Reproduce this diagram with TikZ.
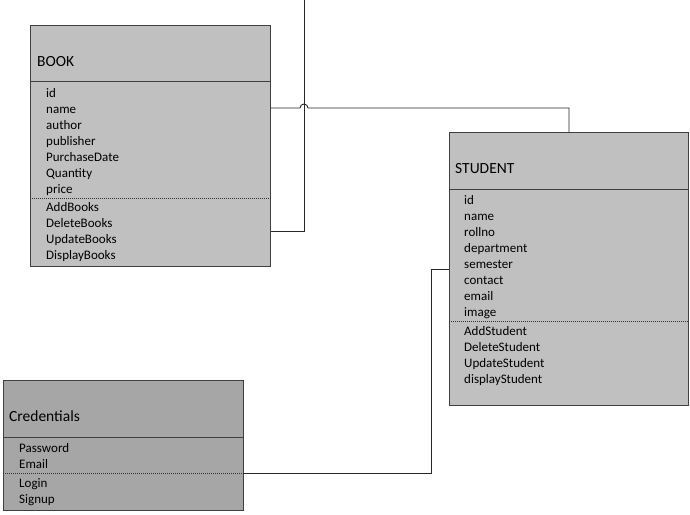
\documentclass[tikz,border=0pt]{standalone}
\usepackage{fontspec}
\setmainfont{Carlito}
\definecolor{boxfill}{RGB}{192,192,192}
\definecolor{credfill}{RGB}{166,166,166}
\definecolor{boxline}{RGB}{64,64,64}
\definecolor{connline}{RGB}{40,40,40}
\begin{document}
\begin{tikzpicture}[x=1pt,y=-1pt,
  box/.style={draw=boxline, line width=1pt, rectangle, anchor=north west, inner sep=0pt},
  titletext/.style={anchor=base west, inner sep=0pt, font=\fontsize{15.5}{18}\selectfont},
  attr/.style={anchor=base west, inner sep=0pt, font=\fontsize{13}{15}\selectfont},
  sepline/.style={draw=boxline, line width=1pt},
  dotline/.style={draw=black!80, line width=1pt, dash pattern=on 1pt off 1pt},
  conn/.style={draw=connline, line width=0.9pt}]
\useasboundingbox (0,0) rectangle (690,514);

% BOOK
\node[box, fill=boxfill, minimum width=240, minimum height=241.5] (book) at (30,24.5) {};
\draw[sepline] ([yshift=-56.5pt]book.north west) -- ([yshift=-56.5pt]book.north east);
\draw[dotline] ([yshift=-173.5pt]book.north west) -- ([yshift=-173.5pt]book.north east);
\node[titletext] (book-title) at (37,66) {BOOK};
\foreach \t [count=\i] in {id,name,author,publisher,PurchaseDate,Quantity,price}
  \node[attr] (book-a\i) at (46,{97+16*(\i-1)}) {\t};
\foreach \t [count=\i] in {AddBooks,DeleteBooks,UpdateBooks,DisplayBooks}
  \node[attr] (book-m\i) at (46,{211+16*(\i-1)}) {\t};

% STUDENT
\node[box, fill=boxfill, minimum width=239, minimum height=273] (student) at (449,132) {};
\draw[sepline] ([yshift=-57pt]student.north west) -- ([yshift=-57pt]student.north east);
\draw[dotline] ([yshift=-189pt]student.north west) -- ([yshift=-189pt]student.north east);
\node[titletext] (student-title) at (455,173.5) {STUDENT};
\foreach \t [count=\i] in {id,name,rollno,department,semester,contact,email,image}
  \node[attr] (student-a\i) at (464,{204+16*(\i-1)}) {\t};
\foreach \t [count=\i] in {AddStudent,DeleteStudent,UpdateStudent,displayStudent}
  \node[attr] (student-m\i) at (464,{335+16*(\i-1)}) {\t};

% Credentials
\node[box, fill=credfill, minimum width=240, minimum height=130] (cred) at (3,380) {};
\draw[sepline] ([yshift=-57pt]cred.north west) -- ([yshift=-57pt]cred.north east);
\draw[dotline] ([yshift=-93pt]cred.north west) -- ([yshift=-93pt]cred.north east);
\node[titletext] (cred-title) at (9,421) {Credentials};
\node[attr] (cred-a1) at (19,452) {Password};
\node[attr] (cred-a2) at (19,468) {Email};
\node[attr] (cred-m1) at (19,487) {Login};
\node[attr] (cred-m2) at (19,503) {Signup};

% connectors
\coordinate (jA) at (304,108);
\coordinate (jB) at (304,231);
\coordinate (topB) at (304,0);
\coordinate (cC) at (431,269);
\coordinate (cD) at (431,473);

\draw[conn] (book.east |- jA) -- ([xshift=-4pt]jA) arc[start angle=180, end angle=0, radius=4pt]
  -- (student.north |- jA) -- (student.north);
\draw[conn] (book.east |- jB) -- (jB) -- (topB);
\draw[conn] (student.west |- cC) -- (cC) -- (cD) -- (cred.east |- cD);
\end{tikzpicture}
\end{document}
